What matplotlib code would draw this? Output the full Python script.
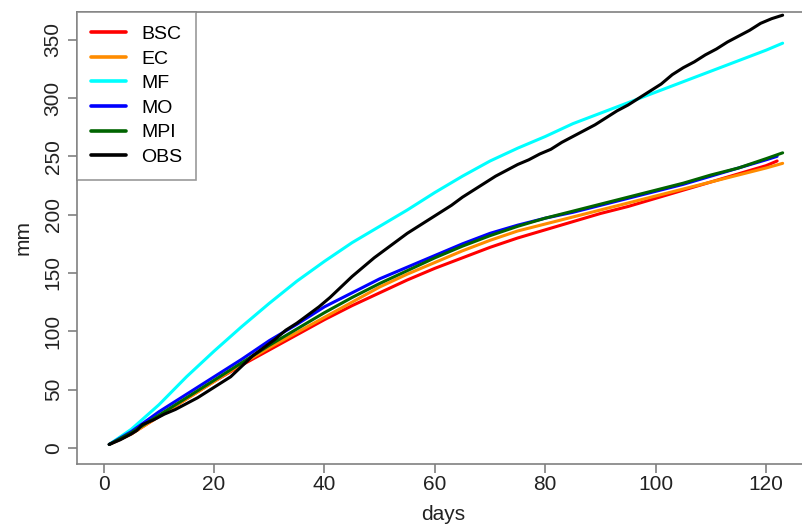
import matplotlib
matplotlib.use("Agg")
import matplotlib.pyplot as plt

plt.rcParams['font.family'] = ['Liberation Sans', 'DejaVu Sans']

# model curves, read every 5 days
model_days = [1, 5, 10, 15, 20, 25, 30, 35, 40, 45, 50, 55, 60, 65, 70, 75,
              80, 85, 90, 95, 100, 105, 110, 115, 120, 123]
mf = [3, 16, 37, 61, 83, 104, 124, 143, 160, 176, 190, 204, 219, 233, 246, 257,
      267, 278, 287, 296, 305, 314, 323, 332, 341, 347]
mpi = [3, 13, 28, 43, 58, 73, 88, 102, 116, 129, 141, 152, 163, 173, 182, 190,
       197, 203, 209, 215, 221, 227, 234, 240, 248, 253]
ec = [3, 12, 27, 42, 57, 72, 86, 99, 112, 125, 138, 149, 159, 169, 178, 186,
      192, 198, 204, 210, 216, 222, 228, 234, 240, 244]

# these two stop one day earlier
short_days = [1, 5, 10, 15, 20, 25, 30, 35, 40, 45, 50, 55, 60, 65, 70, 75,
              80, 85, 90, 95, 100, 105, 110, 115, 120, 122]
bsc = [3, 12, 27, 42, 57, 71, 84, 97, 110, 122, 133, 144, 154, 163, 172, 180,
       187, 194, 201, 207, 214, 221, 228, 235, 242, 246]
mo = [3, 14, 31, 46, 61, 76, 92, 106, 121, 133, 145, 155, 165, 175, 184, 191,
      197, 202, 208, 214, 220, 226, 233, 240, 247, 250]

obs_days = [1, 3, 5, 6, 7, 9, 11, 13, 15, 17, 19, 21, 23, 25, 27, 29, 31, 33,
            35, 37, 39, 41, 43, 45, 47, 49, 51, 53, 55, 57, 59, 61, 63, 65, 67,
            69, 71, 73, 75, 77, 79, 81, 83, 85, 87, 89, 91, 93, 95, 97, 99, 101,
            103, 105, 107, 109, 111, 113, 115, 117, 119, 121, 123]
obs = [3, 7, 12, 15, 20, 24, 29, 33, 38, 43, 49, 55, 61, 70, 79, 86, 93, 101,
       107, 114, 121, 129, 138, 147, 155, 163, 170, 177, 184, 190, 196, 202,
       208, 215, 221, 227, 233, 238, 243, 247, 252, 256, 262, 267, 272, 277,
       283, 289, 294, 300, 306, 312, 320, 326, 331, 337, 342, 348, 353, 358,
       364, 368, 371]

series = [
    ("BSC", short_days, bsc, "#ff0000"),
    ("EC", model_days, ec, "#ff8c00"),
    ("MF", model_days, mf, "#00ffff"),
    ("MO", short_days, mo, "#0000ff"),
    ("MPI", model_days, mpi, "#006400"),
    ("OBS", obs_days, obs, "#000000"),
]

fig = plt.figure(figsize=(8.02, 5.24), dpi=100)
ax = fig.add_axes([0.0964, 0.1151, 0.9132, 0.8626])

for name, d, v, c in series:
    ax.plot(d, v, color=c, lw=2.2, label=name, solid_capstyle='round')

ax.set_xlim(-4.78, 127.9)
ax.set_ylim(-13.5, 374)
ax.set_xticks(range(0, 121, 20))
ax.set_yticks(range(0, 351, 50))

frame_col = "#808080"
for s in ax.spines.values():
    s.set_color(frame_col)
    s.set_linewidth(1.2)

ax.tick_params(axis='both', length=6.5, width=1.2, color=frame_col,
               labelsize=15, labelcolor="#222222")
ax.tick_params(axis='x', pad=2)
ax.tick_params(axis='y', pad=4)
for lab in ax.get_yticklabels():
    lab.set_rotation(90)
    lab.set_va('center')

ax.set_xlabel("days", fontsize=15, color="#222222", va='center')
ax.xaxis.set_label_coords(0.5, -0.112)
ax.set_ylabel("mm", fontsize=15, color="#222222", va='center')
ax.yaxis.set_label_coords(-0.074, 0.5)

leg = ax.legend(loc='upper left', bbox_to_anchor=(0, 1), borderaxespad=0,
                fontsize=14, fancybox=False, frameon=True, handlelength=1.8,
                handletextpad=0.8, labelspacing=0.36, borderpad=0.7)
leg.get_frame().set_edgecolor(frame_col)
leg.get_frame().set_linewidth(1.2)
for line in leg.get_lines():
    line.set_linewidth(2.6)

fig.savefig("out.png", dpi=100)
